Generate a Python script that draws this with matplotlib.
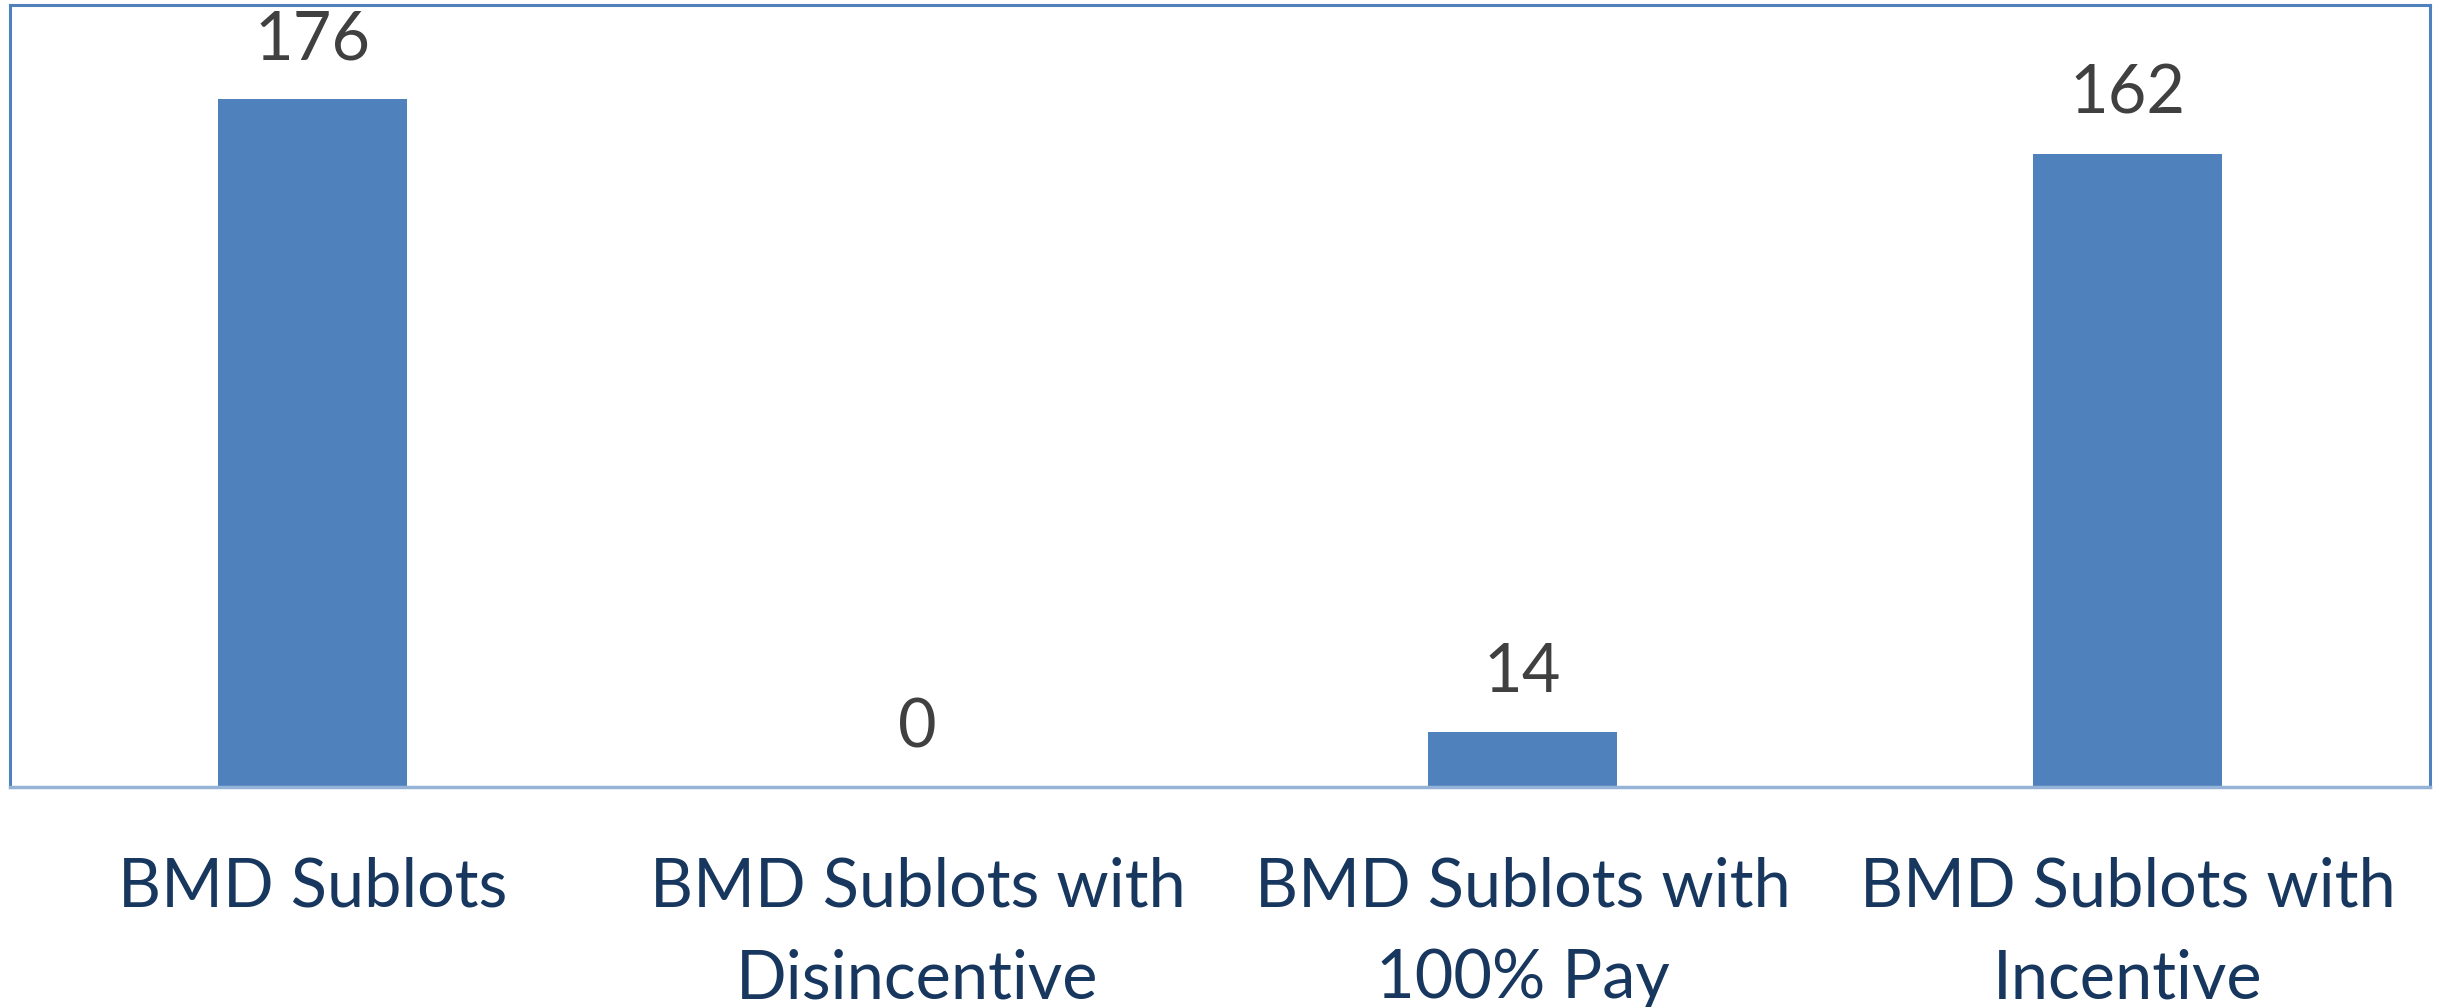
import matplotlib
matplotlib.use('Agg')
import matplotlib.pyplot as plt

# Sublot counts by pay category
categories = ['BMD Sublots', 'BMD Sublots with\nDisincentive',
              'BMD Sublots with\n100% Pay', 'BMD Sublots with\nIncentive']
counts = [176, 0, 14, 162]

bar_color = '#4F81BD'
frame_color = '#4F81BD'
label_color = '#17375E'
value_color = '#404040'

plt.rcParams['font.family'] = ['Lato', 'DejaVu Sans']

fig = plt.figure(figsize=(24.43, 10.07), dpi=100, facecolor='white')
ax = fig.add_axes([10 / 2443, 1 - 787 / 1007, 2420 / 2443, 782 / 1007])

x = range(len(categories))
bars = ax.bar(x, counts, width=0.3125, color=bar_color, zorder=2)

ax.set_xlim(-0.5, len(categories) - 0.5)
ax.set_ylim(0, 200)
ax.set_yticks([])
ax.set_xticks(list(x))
ax.set_xticklabels(categories, fontsize=48, color=label_color, linespacing=1.6)
ax.tick_params(axis='x', length=0, pad=50)

for side in ['left', 'right', 'top']:
    ax.spines[side].set_color(frame_color)
    ax.spines[side].set_linewidth(2.2)
ax.spines['bottom'].set_color('#95B3D7')
ax.spines['bottom'].set_linewidth(2.5)

# Value labels above each bar
for rect, val in zip(bars, counts):
    ax.annotate(str(val), (rect.get_x() + rect.get_width() / 2, val),
                xytext=(0, 20), textcoords='offset points',
                ha='center', va='bottom', fontsize=48, color=value_color)

fig.savefig('out.png', dpi=100, facecolor='white')
